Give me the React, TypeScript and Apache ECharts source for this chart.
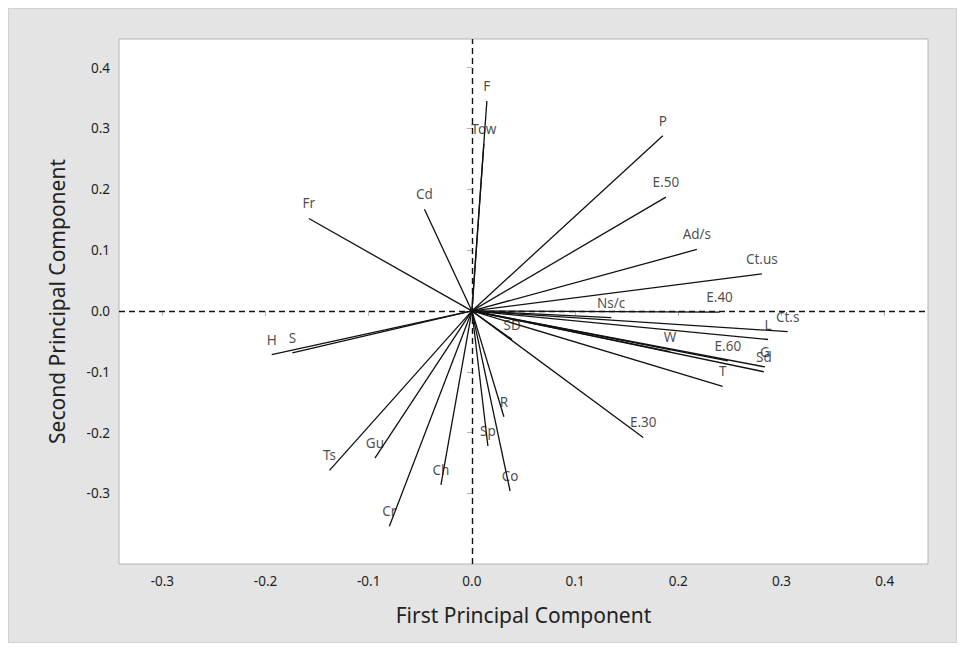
import React, { useEffect, useRef } from "react";
import * as echarts from "echarts";

const variableNames = [
  "F", "Tow", "P", "E.50", "Ad/s", "Ct.us", "E.40", "Ct.s", "L", "W", "E.60",
  "G", "Sd", "T", "Ns/c", "SD", "E.30", "R", "Sp", "Co", "Ch", "Cr", "Gu", "Ts",
  "H", "S", "Fr", "Cd",
];
const pc1 = [
  0.0145, 0.0116, 0.185, 0.188, 0.218, 0.281, 0.240, 0.306, 0.287, 0.192, 0.248,
  0.284, 0.283, 0.243, 0.135, 0.039, 0.166, 0.031, 0.0155, 0.037, -0.030, -0.080, -0.094, -0.138,
  -0.194, -0.174, -0.158, -0.046,
];
const pc2 = [
  0.345, 0.275, 0.288, 0.187, 0.101, 0.061, -0.002, -0.034, -0.047, -0.067, -0.082,
  -0.092, -0.100, -0.124, -0.011, -0.047, -0.208, -0.174, -0.222, -0.296, -0.286, -0.354, -0.242, -0.262,
  -0.072, -0.069, 0.152, 0.167,
];
const xTicks = [-0.3, -0.2, -0.1, 0.0, 0.1, 0.2, 0.3, 0.4];
const yTicks = [-0.3, -0.2, -0.1, 0.0, 0.1, 0.2, 0.3, 0.4];

export default function App() {
  const ref = useRef<HTMLDivElement>(null);
  useEffect(() => {
    if (!ref.current) return;
    const chart = echarts.init(ref.current, undefined, { renderer: "svg" });
    const font = "Noto Sans";
    const fmt = (v: number) => v.toFixed(1);
    chart.setOption({
      animation: false,
      backgroundColor: "transparent",
      grid: {
        left: 110,
        top: 30,
        right: 28,
        bottom: 78,
        show: true,
        backgroundColor: "#ffffff",
        borderColor: "#b4b4b4",
        borderWidth: 1,
      },
      xAxis: {
        type: "value",
        min: -0.342,
        max: 0.442,
        name: "First Principal Component",
        nameLocation: "middle",
        nameGap: 40,
        nameTextStyle: { fontFamily: font, fontSize: 21, color: "#222" },
        axisLine: { show: false },
        splitLine: { show: false },
        axisTick: {
          show: true,
          length: 5,
          lineStyle: { color: "#b4b4b4" },
          customValues: xTicks,
        },
        axisLabel: {
          margin: 10,
          fontFamily: font,
          fontSize: 13.5,
          color: "#1e1e1e",
          customValues: xTicks,
          formatter: fmt,
        },
      },
      yAxis: {
        type: "value",
        min: -0.416,
        max: 0.447,
        name: "Second Principal Component",
        nameLocation: "middle",
        nameGap: 52,
        nameTextStyle: { fontFamily: font, fontSize: 21, color: "#222" },
        axisLine: { show: false },
        splitLine: { show: false },
        axisTick: {
          show: true,
          length: 5,
          lineStyle: { color: "#b4b4b4" },
          customValues: yTicks,
        },
        axisLabel: {
          margin: 9,
          fontFamily: font,
          fontSize: 13.5,
          color: "#1e1e1e",
          customValues: yTicks,
          formatter: fmt,
        },
      },
      series: [
        {
          type: "lines",
          coordinateSystem: "cartesian2d",
          silent: true,
          lineStyle: { color: "#111", width: 1.3, opacity: 1 },
          data: variableNames.map((n, i) => ({
            name: n,
            coords: [
              [0, 0],
              [pc1[i], pc2[i]],
            ],
          })),
          markLine: {
            silent: true,
            symbol: "none",
            label: { show: false },
            lineStyle: { color: "#111", type: [6, 4], width: 1.4 },
            data: [{ xAxis: 0 }, { yAxis: 0 }],
          },
          z: 3,
        },
        {
          type: "scatter",
          symbolSize: 0,
          silent: true,
          data: variableNames.map((n, i) => ({ name: n, value: [pc1[i], pc2[i]] })),
          label: {
            show: true,
            position: "top",
            distance: 8,
            formatter: (p: any) => p.name,
            fontFamily: font,
            fontSize: 13.5,
            color: "#1a1a1a",
          },
          z: 4,
        },
      ],
    });
    return () => chart.dispose();
  }, []);
  return (
    <div
      ref={ref}
      style={{
        width: 949,
        height: 635,
        background: "#e4e4e4",
        border: "1px solid #d2d2d2",
        boxSizing: "border-box",
      }}
    />
  );
}
